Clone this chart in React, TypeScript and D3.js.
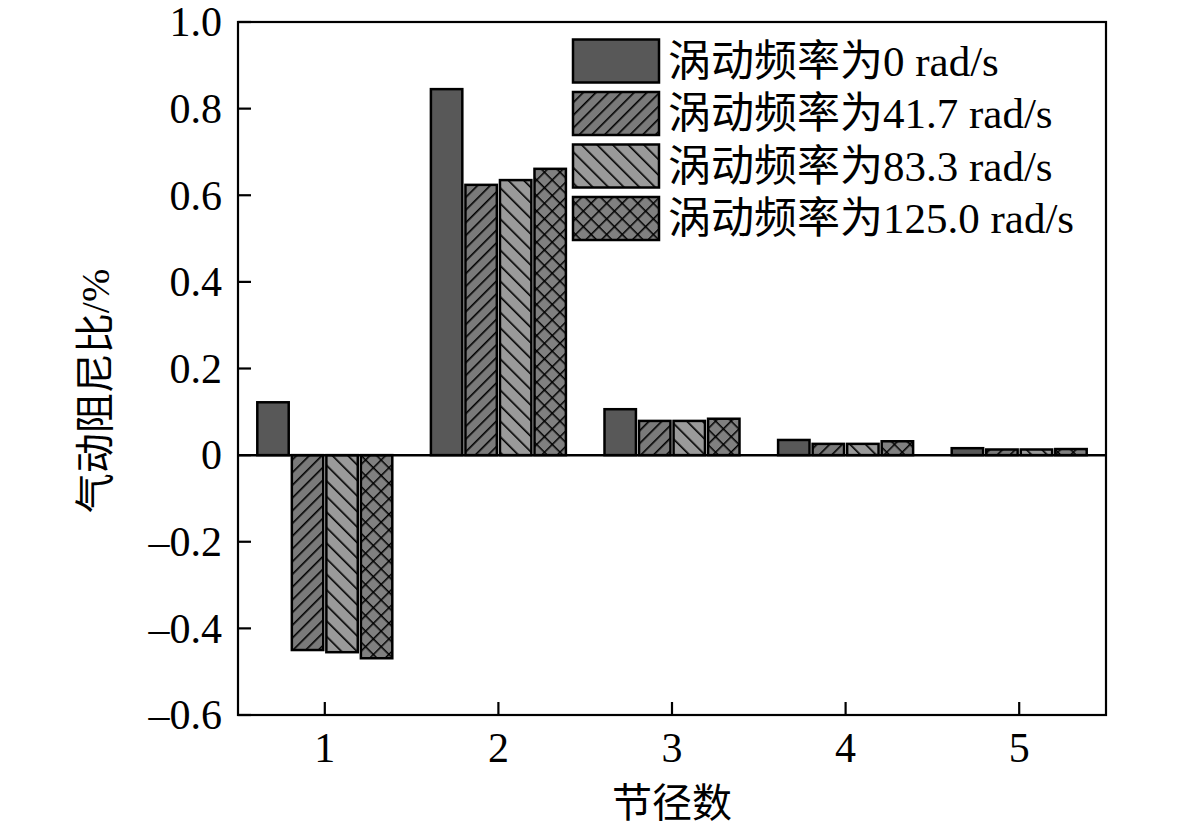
import React from "react";
import * as d3 from "d3";

// node diameters (categories)
const categories = ["1", "2", "3", "4", "5"];

// series: whirl frequency
const seriesNames = [
  "涡动频率为0 rad/s",
  "涡动频率为41.7 rad/s",
  "涡动频率为83.3 rad/s",
  "涡动频率为125.0 rad/s",
];

// aerodynamic damping ratio (%) per series, one value per category
const series0 = [0.122, 0.845, 0.106, 0.035, 0.016];
const series1 = [-0.45, 0.624, 0.079, 0.026, 0.013];
const series2 = [-0.455, 0.635, 0.079, 0.026, 0.013];
const series3 = [-0.469, 0.661, 0.084, 0.032, 0.014];
const seriesValues = [series0, series1, series2, series3];

const yTicks = [-0.6, -0.4, -0.2, 0, 0.2, 0.4, 0.6, 0.8, 1.0];

const W = 1181;
const H = 832;
const margin = { top: 22, right: 75, bottom: 117, left: 238 };

const fills = ["#585858", "url(#hatchA)", "url(#hatchB)", "url(#hatchC)"];
const font = "'Liberation Serif', 'Times New Roman', 'Noto Sans CJK SC', serif";

const fmt = (v: number) =>
  v === 0 ? "0" : (v < 0 ? "\u2013" : "") + Math.abs(v).toFixed(1);

export default function App() {
  const x = d3
    .scaleBand<string>()
    .domain(categories)
    .range([margin.left, W - margin.right])
    .padding(0);
  const y = d3
    .scaleLinear()
    .domain([-0.6, 1.0])
    .range([H - margin.bottom, margin.top]);

  const groupHalf = 67.5;
  const keys = seriesNames.map((_, i) => String(i));

  const bars: JSX.Element[] = [];
  categories.forEach((c, ci) => {
    const center = (x(c) as number) + x.bandwidth() / 2;
    const x1 = d3
      .scaleBand<string>()
      .domain(keys)
      .range([center - groupHalf, center + groupHalf])
      .paddingInner(0.09)
      .paddingOuter(0);
    seriesValues.forEach((vals, si) => {
      const v = vals[ci];
      const y0 = y(0);
      const yv = y(v);
      bars.push(
        <rect
          key={`${ci}-${si}`}
          x={x1(String(si))}
          y={Math.min(y0, yv)}
          width={x1.bandwidth()}
          height={Math.abs(yv - y0)}
          fill={fills[si]}
          stroke="#000"
          strokeWidth={2.5}
        />
      );
    });
  });

  const left = margin.left;
  const right = W - margin.right;
  const top = margin.top;
  const bottom = H - margin.bottom;
  const tickLen = 13;

  return (
    <svg
      width={W}
      height={H}
      style={{ position: "absolute", left: 0, top: 0, background: "#fff" }}
      fontFamily={font}
    >
      <defs>
        <pattern id="hatchA" patternUnits="userSpaceOnUse" width={9} height={9} patternTransform="rotate(45)">
          <rect width={9} height={9} fill="#7a7a7a" />
          <line x1={0} y1={0} x2={0} y2={9} stroke="#000" strokeWidth={3.2} />
        </pattern>
        <pattern id="hatchB" patternUnits="userSpaceOnUse" width={11} height={11} patternTransform="rotate(-45)">
          <rect width={11} height={11} fill="#9a9a9a" />
          <line x1={0} y1={0} x2={0} y2={11} stroke="#000" strokeWidth={3.2} />
        </pattern>
        <pattern id="hatchC" patternUnits="userSpaceOnUse" width={11} height={11} patternTransform="rotate(45)">
          <rect width={11} height={11} fill="#808080" />
          <line x1={0} y1={0} x2={0} y2={11} stroke="#000" strokeWidth={3} />
          <line x1={0} y1={0} x2={11} y2={0} stroke="#000" strokeWidth={3} />
        </pattern>
      </defs>

      {bars}

      {/* zero line */}
      <line x1={left} x2={right} y1={y(0)} y2={y(0)} stroke="#000" strokeWidth={2.5} />

      {/* frame */}
      <rect x={left} y={top} width={right - left} height={bottom - top} fill="none" stroke="#000" strokeWidth={2.2} />

      {/* y ticks */}
      {yTicks.map((t) => (
        <g key={t}>
          <line x1={left} x2={left + tickLen} y1={y(t)} y2={y(t)} stroke="#000" strokeWidth={2.2} />
          <text x={left - 16} y={y(t)} dy="0.34em" textAnchor="end" fontSize={42}>
            {fmt(t)}
          </text>
        </g>
      ))}

      {/* x ticks */}
      {categories.map((c) => {
        const cx = (x(c) as number) + x.bandwidth() / 2;
        return (
          <g key={c}>
            <line x1={cx} x2={cx} y1={bottom} y2={bottom - tickLen} stroke="#000" strokeWidth={2.2} />
            <text x={cx} y={bottom + 47} textAnchor="middle" fontSize={42}>
              {c}
            </text>
          </g>
        );
      })}

      {/* axis titles */}
      <text x={(left + right) / 2} y={817} textAnchor="middle" fontSize={40}>
        节径数
      </text>
      <text
        transform={`translate(109, 391) rotate(-90)`}
        textAnchor="middle"
        fontSize={40}
      >
        气动阻尼比/%
      </text>

      {/* legend */}
      {seriesNames.map((name, i) => {
        const by = 39.5 + i * 52.5;
        return (
          <g key={name}>
            <rect x={573} y={by} width={86} height={43} fill={fills[i]} stroke="#000" strokeWidth={2.5} />
            <text x={668} y={by + 36} fontSize={43}>
              {name}
            </text>
          </g>
        );
      })}
    </svg>
  );
}
